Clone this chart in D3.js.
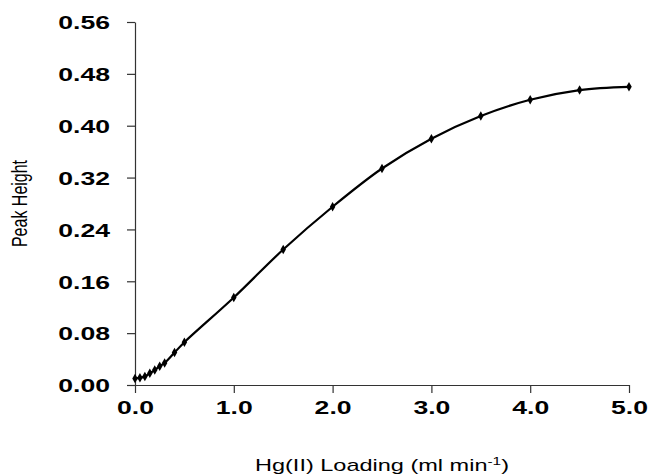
<!DOCTYPE html>
<html>
<head>
<meta charset="utf-8">
<script src="https://cdn.jsdelivr.net/npm/d3@7"></script>
<style>
  body { margin: 0; background: #fff; }
  svg { display: block; font-family: "Liberation Sans", Arial, sans-serif; }
</style>
</head>
<body>
<svg id="chart" width="651" height="475"></svg>
<script>
// Hg(II) loading (ml min-1) vs peak height
const loading = [0, 0.05, 0.1, 0.15, 0.2, 0.25, 0.3, 0.4, 0.5, 1.0, 1.5, 2.0, 2.5, 3.0, 3.5, 4.0, 4.5, 5.0];
const peakHeight = [0.010, 0.011, 0.013, 0.018, 0.023, 0.029, 0.034, 0.050, 0.066, 0.135, 0.209, 0.275, 0.334, 0.380, 0.415, 0.440, 0.455, 0.460];
const xTicks = [0, 1, 2, 3, 4, 5];
const yTicks = [0, 0.08, 0.16, 0.24, 0.32, 0.40, 0.48, 0.56];

const width = 651, height = 475;
const margin = { top: 22, right: 22, bottom: 90, left: 135 };
const stretch = 1.4; // text in the original is wide

const svg = d3.select("#chart");

const x = d3.scaleLinear().domain([0, 5]).range([margin.left, width - margin.right]);
const y = d3.scaleLinear().domain([0, 0.56]).range([height - margin.bottom, margin.top]);

const data = loading.map((d, i) => ({ x: d, y: peakHeight[i] }));

// axes
const yAxis = svg.append("g")
  .attr("transform", `translate(${margin.left},0)`)
  .call(d3.axisLeft(y).tickValues(yTicks).tickFormat(d3.format(".2f")).tickSize(8).tickSizeOuter(0));

const xAxis = svg.append("g")
  .attr("transform", `translate(0,${height - margin.bottom})`)
  .call(d3.axisBottom(x).tickValues(xTicks).tickFormat(d3.format(".1f")).tickSize(8).tickSizeOuter(0));

[xAxis, yAxis].forEach(g => {
  g.select(".domain").attr("stroke", "#333").attr("stroke-width", 1.2);
  g.selectAll(".tick line").attr("stroke", "#333").attr("stroke-width", 1.2);
  g.selectAll("text")
    .attr("fill", "#000")
    .attr("font-size", 19)
    .attr("font-weight", "bold")
    .attr("font-family", "'Liberation Sans', Arial, sans-serif");
});

// y ticks point outward (left), x ticks point down
yAxis.selectAll(".tick text")
  .attr("x", -25 / stretch)
  .attr("dy", "0.36em")
  .attr("transform", `scale(${stretch},1)`);

xAxis.selectAll(".tick text")
  .attr("y", 29)
  .attr("dy", 0)
  .attr("transform", `scale(${stretch},1)`);

// line
const line = d3.line()
  .x(d => x(d.x))
  .y(d => y(d.y))
  .curve(d3.curveCatmullRom);

svg.append("path")
  .datum(data)
  .attr("fill", "none")
  .attr("stroke", "#000")
  .attr("stroke-width", 2.2)
  .attr("d", line);

// markers
svg.append("g")
  .selectAll("path")
  .data(data)
  .join("path")
  .attr("transform", d => `translate(${x(d.x)},${y(d.y)})`)
  .attr("d", d3.symbol(d3.symbolDiamond).size(26))
  .attr("fill", "#000");

// axis titles
svg.append("text")
  .attr("transform", `translate(27,${(margin.top + height - margin.bottom) / 2}) scale(${stretch},1) rotate(-90)`)
  .attr("text-anchor", "middle")
  .attr("font-size", 16)
  .attr("fill", "#000")
  .text("Peak Height");

const xt = svg.append("text")
  .attr("transform", `translate(${(margin.left + width - margin.right) / 2},471) scale(${stretch},1)`)
  .attr("text-anchor", "middle")
  .attr("font-size", 16.8)
  .attr("fill", "#000");
xt.append("tspan").text("Hg(II) Loading (ml min");
xt.append("tspan").attr("font-size", 11).attr("dy", -6).text("-1");
xt.append("tspan").attr("dy", 6).text(")");
</script>
</body>
</html>
